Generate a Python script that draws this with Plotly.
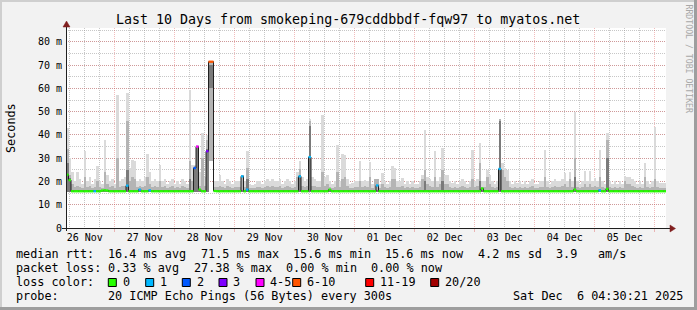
import plotly.graph_objects as go
from datetime import datetime, timedelta

# ---------------- data: 1-hour RRA rows, 240 rows = 10 days ----------------
END_TIME = datetime(2025, 12, 6, 4, 30, 21)
STEP_S = 3600
ROWS = 240

# top of outer (lightest) smoke band, ms
smoke_top = [
    43, 30, 24, 20, 24, 21, 19, 33, 20, 22, 19, 21, 26.5, 20, 19, 38, 23, 20, 21, 19, 57, 20, 21, 22,
    58, 26, 29.4, 29, 20, 21, 20, 22, 32, 24, 20, 21, 20, 27, 20, 21, 19, 20, 21, 19, 20, 19, 21, 20,
    19, 59.5, 27, 27, 35.5, 24, 41, 22, 40, 71.8, 71.8, 20, 20, 23, 20, 19, 21, 20, 19, 20, 20, 20, 23, 20,
    33, 19, 18.5, 19, 20, 20, 19, 20, 21, 20, 21, 20, 20, 21, 19, 20, 21, 20, 19, 20, 24, 29, 22, 20,
    21, 47, 22, 21, 20, 20, 48.5, 22, 23, 20, 19, 20, 35.8, 20, 32, 31.5, 21, 19, 19.4, 20, 20, 28.7, 20, 20.8,
    20, 28.2, 19, 21, 21, 19, 23.6, 20, 19, 20, 26.5, 26, 20, 20, 21.5, 19, 20, 19, 20, 19, 19, 20, 23, 42,
    22, 21, 20, 33, 20, 22, 34.4, 23, 23, 20, 19.5, 20, 19, 20, 21, 20, 19, 20, 33.7, 20, 21, 36.6, 20, 20,
    25, 23, 20, 19, 20, 47, 28, 26, 25, 20, 19, 20, 19.5, 20, 19, 20, 19, 20, 21, 19, 19, 20, 20, 33.7,
    20, 19, 20, 21, 20, 20, 21, 23.6, 20, 24, 20, 50, 20, 19, 20, 24.4, 20, 24.4, 20, 21.5, 20, 33.7, 20, 19,
    41, 20, 19, 20, 19, 20, 19, 22.2, 22, 22, 21, 20, 19, 20, 19, 28, 20, 19, 20, 43.4, 20, 19.3, 19.3, 19.3,
]
# top of middle smoke band, ms
smoke_upper = [
    34, 23, 19, 17.5, 18, 17.5, 17, 22, 17.5, 18, 17, 17.5, 20, 17.5, 17, 24, 19, 17.5, 18, 17, 30, 17.5, 18, 18,
    46, 20, 22, 21, 17.5, 18, 17.5, 18, 22, 19, 17.5, 18, 17.5, 20, 17.5, 18, 17, 17.5, 18, 17, 17.5, 17, 18, 17.5,
    17, 29, 20, 26.5, 35.2, 18, 30, 18, 38, 71.8, 71.8, 17.5, 17.5, 18, 17.5, 17, 18, 17.5, 17, 17.5, 17.5, 17.5, 22.8, 17.5,
    26, 17, 17, 17, 17.5, 17.5, 17, 17.5, 18, 17.5, 18, 17.5, 17.5, 18, 17, 17.5, 18, 17.5, 17, 17.5, 22, 25.5, 18, 17.5,
    18, 46, 18, 18, 17.5, 17.5, 24, 18, 19, 17.5, 17, 17.5, 24, 17.5, 21, 22, 18, 17, 17, 17.5, 17.5, 20, 17.5, 18,
    17.5, 22, 17, 21, 21, 17, 19, 17.5, 17, 17.5, 21, 21, 17.5, 17.5, 18, 17, 17.5, 17, 17.5, 17, 17, 17.5, 21, 25,
    19, 18, 17.5, 22, 17.5, 19, 25, 19, 19, 17.5, 17, 17.5, 17, 17.5, 18, 17.5, 17, 17.5, 21, 17.5, 18, 28, 17.5, 17.5,
    22, 19, 17.5, 17, 17.5, 47, 25, 22, 20, 17.5, 17, 17.5, 17, 17.5, 17, 17.5, 17, 17.5, 18, 17, 17, 17.5, 17.5, 22,
    17.5, 17, 17.5, 18, 17.5, 17.5, 18, 19, 17.5, 21, 17.5, 30, 17.5, 17, 17.5, 19, 17.5, 19, 17.5, 18, 17.5, 22, 17.5, 17,
    38, 17.5, 17, 17.5, 17, 17.5, 17, 20, 19, 19, 18, 17.5, 17, 17.5, 17, 22, 17.5, 17, 17.5, 21, 17.5, 17, 17, 17,
]
# top of inner (darkest) smoke band, ms
smoke_core = [
    28, 21.5, 16.4, 16.4, 16.4, 16.4, 16.4, 16.4, 16.4, 16.4, 16.4, 16.4, 16.4, 16.4, 16.4, 16.4, 16.4, 16.4, 16.4, 16.4, 16.4, 16.4, 16.4, 16.4,
    25, 16.4, 16.4, 16.4, 16.4, 16.4, 16.4, 16.4, 16.4, 16.4, 16.4, 16.4, 16.4, 16.4, 16.4, 16.4, 16.4, 16.4, 16.4, 16.4, 16.4, 16.4, 16.4, 16.4,
    16.4, 21, 16.4, 26, 35, 16.4, 16.4, 16.4, 34, 70, 70, 16.4, 16.4, 16.4, 16.4, 16.4, 16.4, 16.4, 16.4, 16.4, 16.4, 16.4, 16.4, 16.4,
    21, 16.4, 16.4, 16.4, 16.4, 16.4, 16.4, 16.4, 16.4, 16.4, 16.4, 16.4, 16.4, 16.4, 16.4, 16.4, 16.4, 16.4, 16.4, 16.4, 16.4, 23, 16.4, 16.4,
    16.4, 44, 16.4, 16.4, 16.4, 16.4, 16.4, 16.4, 16.4, 16.4, 16.4, 16.4, 16.4, 16.4, 16.4, 16.4, 16.4, 16.4, 16.4, 16.4, 16.4, 16.4, 16.4, 16.4,
    16.4, 16.4, 16.4, 16.4, 16.4, 16.4, 16.4, 16.4, 16.4, 16.4, 16.4, 16.4, 16.4, 16.4, 16.4, 16.4, 16.4, 16.4, 16.4, 16.4, 16.4, 16.4, 16.4, 20,
    16.4, 16.4, 16.4, 16.4, 16.4, 16.4, 20, 16.4, 16.4, 16.4, 16.4, 16.4, 16.4, 16.4, 16.4, 16.4, 16.4, 16.4, 16.4, 16.4, 16.4, 20, 16.4, 16.4,
    16.4, 16.4, 16.4, 16.4, 16.4, 46, 16.4, 16.4, 16.4, 16.4, 16.4, 16.4, 16.4, 16.4, 16.4, 16.4, 16.4, 16.4, 16.4, 16.4, 16.4, 16.4, 16.4, 16.4,
    16.4, 16.4, 16.4, 16.4, 16.4, 16.4, 16.4, 16.4, 16.4, 16.4, 16.4, 22, 16.4, 16.4, 16.4, 16.4, 16.4, 16.4, 16.4, 16.4, 16.4, 16.4, 16.4, 16.4,
    30, 16.4, 16.4, 16.4, 16.4, 16.4, 16.4, 16.4, 16.4, 16.4, 16.4, 16.4, 16.4, 16.4, 16.4, 16.4, 16.4, 16.4, 16.4, 16.4, 16.4, 16.4, 16.4, 16.4,
]
# bottom of the inner band, ms (the inner band of the 72 ms spike starts high)
core_low = [
    15.4, 15.4, 15.4, 15.4, 15.4, 15.4, 15.4, 15.4, 15.4, 15.4, 15.4, 15.4, 15.4, 15.4, 15.4, 15.4, 15.4, 15.4, 15.4, 15.4, 15.4, 15.4, 15.4, 15.4,
    15.4, 15.4, 15.4, 15.4, 15.4, 15.4, 15.4, 15.4, 15.4, 15.4, 15.4, 15.4, 15.4, 15.4, 15.4, 15.4, 15.4, 15.4, 15.4, 15.4, 15.4, 15.4, 15.4, 15.4,
    15.4, 15.4, 15.4, 15.4, 15.4, 15.4, 15.4, 15.4, 15.4, 60, 60, 15.4, 15.4, 15.4, 15.4, 15.4, 15.4, 15.4, 15.4, 15.4, 15.4, 15.4, 15.4, 15.4,
    15.4, 15.4, 15.4, 15.4, 15.4, 15.4, 15.4, 15.4, 15.4, 15.4, 15.4, 15.4, 15.4, 15.4, 15.4, 15.4, 15.4, 15.4, 15.4, 15.4, 15.4, 15.4, 15.4, 15.4,
    15.4, 15.4, 15.4, 15.4, 15.4, 15.4, 15.4, 15.4, 15.4, 15.4, 15.4, 15.4, 15.4, 15.4, 15.4, 15.4, 15.4, 15.4, 15.4, 15.4, 15.4, 15.4, 15.4, 15.4,
    15.4, 15.4, 15.4, 15.4, 15.4, 15.4, 15.4, 15.4, 15.4, 15.4, 15.4, 15.4, 15.4, 15.4, 15.4, 15.4, 15.4, 15.4, 15.4, 15.4, 15.4, 15.4, 15.4, 15.4,
    15.4, 15.4, 15.4, 15.4, 15.4, 15.4, 15.4, 15.4, 15.4, 15.4, 15.4, 15.4, 15.4, 15.4, 15.4, 15.4, 15.4, 15.4, 15.4, 15.4, 15.4, 15.4, 15.4, 15.4,
    15.4, 15.4, 15.4, 15.4, 15.4, 15.4, 15.4, 15.4, 15.4, 15.4, 15.4, 15.4, 15.4, 15.4, 15.4, 15.4, 15.4, 15.4, 15.4, 15.4, 15.4, 15.4, 15.4, 15.4,
    15.4, 15.4, 15.4, 15.4, 15.4, 15.4, 15.4, 15.4, 15.4, 15.4, 15.4, 15.4, 15.4, 15.4, 15.4, 15.4, 15.4, 15.4, 15.4, 15.4, 15.4, 15.4, 15.4, 15.4,
    15.4, 15.4, 15.4, 15.4, 15.4, 15.4, 15.4, 15.4, 15.4, 15.4, 15.4, 15.4, 15.4, 15.4, 15.4, 15.4, 15.4, 15.4, 15.4, 15.4, 15.4, 15.4, 15.4, 15.4,
]
# fastest ping of each row (bottom of smoke), ms
smoke_low = [
    15.4, 15.4, 15.4, 15.4, 15.4, 15.4, 15.4, 15.4, 15.4, 15.4, 15.4, 15.4, 15.4, 15.4, 15.4, 15.4, 15.4, 15.4, 15.4, 15.4, 15.4, 15.4, 15.4, 15.4,
    15.4, 15.4, 15.4, 15.4, 15.4, 15.4, 15.4, 15.4, 15.4, 15.4, 15.4, 15.4, 15.4, 15.4, 15.4, 15.4, 15.4, 15.4, 15.4, 15.4, 15.4, 15.4, 15.4, 15.4,
    15.4, 15.4, 15.4, 15.4, 15.4, 15.4, 15.4, 15.4, 15.4, 29, 29, 15.4, 15.4, 15.4, 15.4, 15.4, 15.4, 15.4, 15.4, 15.4, 15.4, 15.4, 15.4, 15.4,
    15.4, 15.4, 15.4, 15.4, 15.4, 15.4, 15.4, 15.4, 15.4, 15.4, 15.4, 15.4, 15.4, 15.4, 15.4, 15.4, 15.4, 15.4, 15.4, 15.4, 15.4, 15.4, 15.4, 15.4,
    15.4, 15.4, 15.4, 15.4, 15.4, 15.4, 15.4, 15.4, 15.4, 15.4, 15.4, 15.4, 15.4, 15.4, 15.4, 15.4, 15.4, 15.4, 15.4, 15.4, 15.4, 15.4, 15.4, 15.4,
    15.4, 15.4, 15.4, 15.4, 15.4, 15.4, 15.4, 15.4, 15.4, 15.4, 15.4, 15.4, 15.4, 15.4, 15.4, 15.4, 15.4, 15.4, 15.4, 15.4, 15.4, 15.4, 15.4, 15.4,
    15.4, 15.4, 15.4, 15.4, 15.4, 15.4, 15.4, 15.4, 15.4, 15.4, 15.4, 15.4, 15.4, 15.4, 15.4, 15.4, 15.4, 15.4, 15.4, 15.4, 15.4, 15.4, 15.4, 15.4,
    15.4, 15.4, 15.4, 15.4, 15.4, 15.4, 15.4, 15.4, 15.4, 15.4, 15.4, 15.4, 15.4, 15.4, 15.4, 15.4, 15.4, 15.4, 15.4, 15.4, 15.4, 15.4, 15.4, 15.4,
    15.4, 15.4, 15.4, 15.4, 15.4, 15.4, 15.4, 15.4, 15.4, 15.4, 15.4, 15.4, 15.4, 15.4, 15.4, 15.4, 15.4, 15.4, 15.4, 15.4, 15.4, 15.4, 15.4, 15.4,
    15.4, 15.4, 15.4, 15.4, 15.4, 15.4, 15.4, 15.4, 15.4, 15.4, 15.4, 15.4, 15.4, 15.4, 15.4, 15.4, 15.4, 15.4, 15.4, 15.4, 15.4, 15.4, 15.4, 15.4,
]
# median rtt, ms
median_rtt = [
    22.9, 20.6, 15.8, 15.8, 15.8, 15.8, 15.8, 15.8, 15.8, 15.8, 15.8, 15.8, 15.8, 15.8, 16.1, 16.2, 16.1, 15.8, 15.8, 15.8, 15.8, 15.8, 15.8, 15.8,
    18.2, 15.8, 15.8, 15.8, 15.8, 16.5, 15.8, 15.8, 15.8, 16.2, 15.8, 15.8, 15.8, 15.8, 15.8, 15.8, 15.8, 15.8, 15.8, 15.8, 15.8, 15.8, 15.8, 15.8,
    15.8, 15.8, 15.8, 25.8, 35, 16.5, 15.8, 15.8, 33, 71.5, 71.5, 15.9, 15.8, 15.8, 15.8, 15.8, 15.8, 15.8, 15.8, 15.8, 15.8, 15.8, 22.2, 15.8,
    16.5, 15.8, 15.8, 15.8, 15.8, 15.8, 15.8, 15.8, 15.8, 15.8, 15.8, 15.8, 15.8, 15.8, 15.8, 15.8, 15.8, 15.8, 15.8, 15.8, 15.8, 22.2, 15.8, 15.8,
    15.8, 30.5, 15.8, 15.8, 15.8, 15.8, 15.8, 15.8, 15.8, 16.5, 15.8, 15.8, 15.8, 15.8, 15.8, 15.8, 15.8, 15.8, 15.8, 15.8, 15.8, 15.8, 15.8, 15.8,
    15.8, 15.8, 15.8, 15.8, 18.3, 15.8, 15.8, 15.8, 15.8, 15.8, 15.8, 15.8, 15.8, 15.8, 15.8, 15.8, 15.8, 15.8, 15.8, 15.8, 15.8, 15.8, 15.8, 15.8,
    15.8, 15.8, 15.8, 15.8, 15.8, 15.8, 15.8, 15.8, 15.8, 15.8, 15.8, 15.8, 15.8, 15.8, 15.8, 15.8, 15.8, 15.8, 15.8, 15.8, 15.8, 15.8, 17, 15.8,
    15.8, 15.8, 15.8, 15.8, 15.8, 25.4, 15.8, 15.8, 15.8, 15.8, 15.8, 15.8, 15.8, 15.8, 15.8, 15.8, 15.8, 15.8, 15.8, 15.8, 15.8, 15.8, 15.8, 15.8,
    15.8, 15.8, 15.8, 15.8, 15.8, 15.8, 15.8, 15.8, 15.8, 15.8, 15.8, 16.5, 15.8, 15.8, 15.8, 15.8, 15.8, 15.8, 15.8, 15.8, 15.8, 16.2, 15.8, 15.8,
    16.8, 15.8, 15.8, 15.8, 15.8, 15.8, 15.8, 15.8, 15.8, 15.8, 15.8, 15.8, 15.8, 15.8, 15.8, 15.8, 15.8, 15.8, 15.8, 15.8, 15.8, 15.8, 15.8, 15.8,
]
# lost pings out of 20 per row
lost_pings = [
    0, 0, 0, 0, 0, 0, 0, 0, 0, 0, 0, 1, 0, 0, 0, 0, 0, 0, 0, 0, 0, 0, 0, 0,
    1, 0, 0, 0, 0, 1, 0, 0, 0, 1, 0, 0, 0, 0, 0, 0, 0, 0, 0, 0, 0, 0, 0, 0,
    0, 0, 0, 2, 4, 0, 0, 0, 3, 7, 7, 0, 0, 0, 0, 0, 0, 0, 0, 0, 0, 0, 1, 0,
    1, 0, 0, 0, 0, 0, 0, 0, 0, 0, 0, 0, 0, 0, 0, 0, 0, 0, 0, 0, 0, 1, 0, 0,
    0, 1, 0, 0, 0, 0, 0, 0, 0, 0, 0, 0, 0, 0, 0, 0, 0, 0, 0, 0, 0, 0, 0, 0,
    0, 0, 0, 0, 1, 0, 0, 0, 0, 0, 0, 0, 0, 0, 0, 0, 0, 0, 0, 0, 0, 0, 0, 0,
    0, 0, 0, 0, 0, 0, 0, 0, 0, 0, 0, 0, 0, 0, 0, 0, 0, 0, 0, 0, 0, 0, 0, 0,
    0, 0, 0, 0, 0, 1, 0, 0, 0, 0, 0, 0, 0, 0, 0, 0, 0, 0, 0, 0, 0, 0, 0, 0,
    0, 0, 0, 0, 0, 0, 0, 0, 0, 0, 0, 0, 0, 0, 0, 0, 0, 0, 0, 0, 0, 1, 0, 0,
    0, 0, 0, 0, 0, 0, 0, 0, 0, 0, 0, 0, 0, 0, 0, 0, 0, 0, 0, 0, 0, 0, 0, 0,
]

loss_labels = ["0", "1", "2", "3", "4-5", "6-10", "11-19", "20/20"]
loss_limits = [0, 1, 2, 3, 5, 10, 19, 20]
loss_colors = ["#26ff00", "#00b8ff", "#0059ff", "#7e00ff", "#ff00ff", "#ff5500", "#ff0000", "#a10000"]

y_tick_vals = [0, 10, 20, 30, 40, 50, 60, 70, 80]
y_tick_text = ["0", "10 m", "20 m", "30 m", "40 m", "50 m", "60 m", "70 m", "80 m"]

title_text = "Last 10 Days from smokeping-679cddbbdf-fqw97 to myatos.net"
rtt_stats = ["median rtt:", "16.4 ms avg", "71.5 ms max", "15.6 ms min", "15.6 ms now",
             "4.2 ms sd", "3.9", "am/s"]
loss_stats = ["packet loss:", "0.33 % avg", "27.38 % max", "0.00 % min", "0.00 % now"]
probe_text = ["probe:", "20 ICMP Echo Pings (56 Bytes) every 300s", "Sat Dec\u00a0 6 04:30:21 2025"]

for arr in (smoke_top, smoke_upper, smoke_core, core_low, smoke_low, median_rtt, lost_pings):
    assert len(arr) == ROWS, len(arr)

# ---------------- layout constants (pixels) ----------------
W, H = 697, 310
PL, PT, PW, PH = 66, 28, 600, 200
FONT = "DejaVu Sans Mono"
BACK = "#f2f2f2"
GRID = "rgba(143,143,143,0.5)"
MGRID = "rgba(222,79,79,0.38)"
AXIS = "#1f1f1f"
ARROW = "#801f1f"
SMOKE_COLORS = ["#dadada", "#b4b4b4", "#7a7a7a"]
CHAR_W = 7.1     # legend monospace advance
TXT_X0 = 15      # legend left text edge


def px(x):
    return (x - PL) / PW


def py(y):
    return (PT + PH - y) / PH


def col(c):
    return TXT_X0 + c * CHAR_W


t_start = END_TIME - timedelta(seconds=STEP_S * ROWS)
starts = [t_start + timedelta(seconds=STEP_S * i) for i in range(ROWS)]
centers = [t_start + timedelta(seconds=STEP_S * (i + 0.5)) for i in range(ROWS)]

fig = go.Figure()

# smoke bands
for tops, lows, colr in ((smoke_top, smoke_low, SMOKE_COLORS[0]),
                         (smoke_upper, smoke_low, SMOKE_COLORS[1]),
                         (smoke_core, core_low, SMOKE_COLORS[2])):
    fig.add_trace(go.Bar(
        x=centers, y=[max(t - lo, 0) for t, lo in zip(tops, lows)], base=lows,
        width=STEP_S * 1000, marker=dict(color=colr, line=dict(width=0)),
        hoverinfo="skip", showlegend=False))

# black median line
fig.add_trace(go.Scatter(
    x=starts + [END_TIME], y=median_rtt + [median_rtt[-1]], mode="lines",
    line=dict(color="#202020", width=1, shape="hv"), hoverinfo="skip", showlegend=False))


def loss_cat(n):
    for k, lim in enumerate(loss_limits):
        if n <= lim:
            return k
    return len(loss_limits) - 1


seg_x = [[] for _ in loss_colors]
seg_y = [[] for _ in loss_colors]
for i in range(ROWS):
    c = loss_cat(lost_pings[i])
    seg_x[c] += [starts[i], starts[i] + timedelta(seconds=STEP_S), None]
    seg_y[c] += [median_rtt[i], median_rtt[i], None]
for c, colr in enumerate(loss_colors):
    if seg_x[c]:
        fig.add_trace(go.Scatter(
            x=seg_x[c], y=seg_y[c], mode="lines", connectgaps=False,
            line=dict(color=colr, width=2.3), hoverinfo="skip", showlegend=False))

ann = []


def txt(s, x, y, size=11.8, anchor="left", angle=0, color="#000000"):
    ann.append(dict(xref="paper", yref="paper", x=px(x), y=py(y), text=s, showarrow=False,
                    xanchor=anchor, yanchor="middle", borderpad=0, textangle=angle,
                    font=dict(family=FONT, size=size, color=color)))


txt(title_text, 348, 19, size=13.3, anchor="center")
txt("Seconds", 11, 128, size=11.8, anchor="center", angle=-90)
txt("RRDTOOL / TOBI OETIKER", 688.5, 59, size=8.2, anchor="center", angle=90, color="#a8a8a8")

for s, c in zip(rtt_stats, [0, 13, 26, 39, 52, 65, 76, 82]):
    txt(s, col(c), 254)
for s, c in zip(loss_stats, [0, 13, 25, 38, 50]):
    txt(s, col(c), 268)
txt("loss color:", col(0), 282)
box_x = [108.3, 145.7, 182.3, 219, 256, 292.7, 365.7, 430.7]
shapes = []
for lab, colr, bx in zip(loss_labels, loss_colors, box_x):
    shapes.append(dict(type="rect", xref="paper", yref="paper", x0=px(bx), x1=px(bx + 8),
                       y0=py(278.5), y1=py(286.5), fillcolor=colr, line=dict(color="#000000", width=1)))
    txt(lab, bx + 13.3, 282)
for s, c in zip(probe_text, [0, 13, 70]):
    txt(s, col(c), 296)

# 3D border
shapes += [
    dict(type="rect", xref="paper", yref="paper", x0=px(0), x1=px(W), y0=py(0), y1=py(2),
         fillcolor="#cfcfcf", line=dict(width=0), layer="below"),
    dict(type="rect", xref="paper", yref="paper", x0=px(0), x1=px(2), y0=py(0), y1=py(H),
         fillcolor="#cfcfcf", line=dict(width=0), layer="below"),
    dict(type="rect", xref="paper", yref="paper", x0=px(694), x1=px(W), y0=py(0), y1=py(H),
         fillcolor="#9e9e9e", line=dict(width=0)),
    dict(type="rect", xref="paper", yref="paper", x0=px(0), x1=px(W), y0=py(307), y1=py(H),
         fillcolor="#9e9e9e", line=dict(width=0)),
]
# axes with arrows
shapes += [
    dict(type="line", xref="paper", yref="paper", x0=px(62), x1=px(671), y0=py(228.5), y1=py(228.5),
         line=dict(color=AXIS, width=1)),
    dict(type="line", xref="paper", yref="paper", x0=px(66.5), x1=px(66.5), y0=py(231), y1=py(26),
         line=dict(color=AXIS, width=1)),
    dict(type="path", xref="paper", yref="paper",
         path=f"M {px(670)} {py(225)} L {px(670)} {py(232)} L {px(675.5)} {py(228.5)} Z",
         fillcolor=ARROW, line=dict(color=ARROW, width=0.5)),
    dict(type="path", xref="paper", yref="paper",
         path=f"M {px(63)} {py(27)} L {px(70)} {py(27)} L {px(66.5)} {py(21)} Z",
         fillcolor=ARROW, line=dict(color=ARROW, width=0.5)),
]

fig.update_layout(
    width=W, height=H, autosize=False,
    margin=dict(l=PL, r=W - PL - PW, t=PT, b=H - PT - PH, pad=0),
    paper_bgcolor=BACK, plot_bgcolor="#ffffff",
    barmode="overlay", bargap=0, showlegend=False, hovermode=False,
    font=dict(family=FONT, size=10, color="#000000"),
    annotations=ann, shapes=shapes,
    xaxis=dict(
        type="date", range=[t_start, END_TIME], fixedrange=True,
        tick0="2025-11-26", dtick=86400000, tickformat="%d %b", ticklabelmode="period",
        ticks="outside", ticklen=3, tickcolor=MGRID, tickwidth=1, ticklabelstandoff=-3,
        showgrid=True, gridcolor=MGRID, gridwidth=1, griddash="1px,1px",
        minor=dict(dtick=21600000, tick0="2025-11-26", showgrid=True, gridcolor=GRID,
                   griddash="1px,1px", gridwidth=1, ticks=""),
        showline=False, zeroline=False,
        tickfont=dict(family=FONT, size=10, color="#000000"),
    ),
    yaxis=dict(
        range=[0, 86], fixedrange=True, tickvals=y_tick_vals, ticktext=y_tick_text,
        ticks="", showgrid=True, gridcolor=MGRID, gridwidth=1, griddash="1px,1px",
        minor=dict(dtick=5, tick0=0, showgrid=True, gridcolor=GRID, griddash="1px,1px",
                   gridwidth=1, ticks=""),
        showline=False, zeroline=False, ticklabelstandoff=3,
        tickfont=dict(family=FONT, size=10, color="#000000"),
    ),
)

fig.write_html("out.html", config={"displayModeBar": False, "staticPlot": True})
